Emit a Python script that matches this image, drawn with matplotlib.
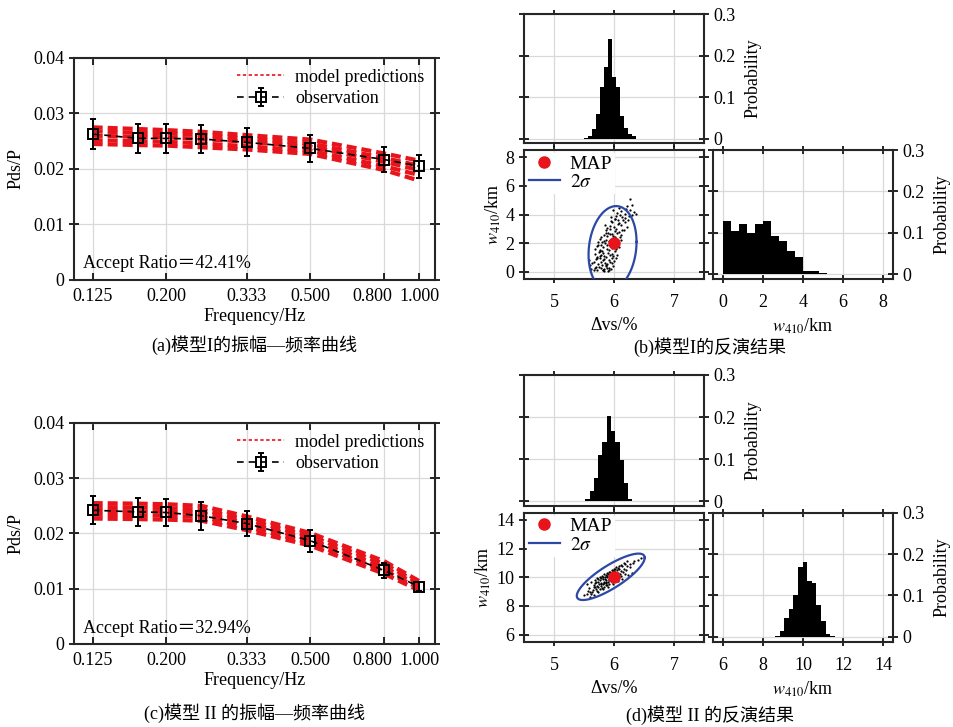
import numpy as np
import matplotlib
matplotlib.use("Agg")
import matplotlib.pyplot as plt
from matplotlib.lines import Line2D
from matplotlib.ticker import NullLocator
from matplotlib.transforms import ScaledTranslation

plt.rcParams['font.family'] = ['Liberation Serif', 'Noto Sans CJK SC']
plt.rcParams['mathtext.fontset'] = 'stix'
plt.rcParams['font.size'] = 13
plt.rcParams['axes.linewidth'] = 1.5

# ----------------------------
# Amplitude-frequency data
# ----------------------------
freq = [1/8, 1/6, 1/5, 1/4, 1/3, 1/2, 0.8, 1.0]
freq_ticks = [0.125, 0.2, 1/3, 0.5, 0.8, 1.0]
freq_labels = ["0.125", "0.200", "0.333", "0.500", "0.800", "1.000"]

obs_1 = [0.0263, 0.0255, 0.0255, 0.0254, 0.0248, 0.0237, 0.0217, 0.0205]
err_1 = [0.0027, 0.0026, 0.0026, 0.0026, 0.0025, 0.0024, 0.0022, 0.0021]
pred_1 = [
    [0.0275, 0.0272, 0.0270, 0.0267, 0.0261, 0.0253, 0.0228, 0.0215],
    [0.0268, 0.0265, 0.0264, 0.0261, 0.0255, 0.0246, 0.0220, 0.0206],
    [0.0260, 0.0258, 0.0257, 0.0254, 0.0249, 0.0240, 0.0213, 0.0198],
    [0.0252, 0.0250, 0.0249, 0.0246, 0.0241, 0.0233, 0.0205, 0.0189],
    [0.0245, 0.0243, 0.0242, 0.0239, 0.0235, 0.0227, 0.0198, 0.0179],
]
ratio_1 = "42.41%"

obs_2 = [0.0242, 0.0239, 0.0238, 0.0232, 0.0218, 0.0187, 0.0133, 0.0104]
err_2 = [0.0025, 0.0025, 0.0025, 0.0025, 0.0022, 0.0020, 0.0013, 0.0008]
pred_2 = [
    [0.0255, 0.0254, 0.0253, 0.0250, 0.0231, 0.0201, 0.0150, 0.0114],
    [0.0248, 0.0247, 0.0246, 0.0243, 0.0225, 0.0195, 0.0145, 0.0110],
    [0.0241, 0.0240, 0.0239, 0.0237, 0.0219, 0.0189, 0.0139, 0.0106],
    [0.0234, 0.0233, 0.0232, 0.0230, 0.0212, 0.0183, 0.0133, 0.0101],
    [0.0227, 0.0226, 0.0225, 0.0223, 0.0206, 0.0178, 0.0127, 0.0097],
]
ratio_2 = "32.94%"

# ----------------------------
# Inversion results, model I
# ----------------------------
dvs_start_1, dvs_width_1 = 5.5, 1/15
dvs_hist_1 = [0.002, 0.006, 0.023, 0.059, 0.124, 0.173, 0.241,
              0.148, 0.125, 0.054, 0.027, 0.011, 0.007]
w_start_1, w_width_1 = 0.0, 0.4
w_hist_1 = [0.129, 0.105, 0.122, 0.100, 0.120, 0.129, 0.091,
            0.081, 0.055, 0.041, 0.007, 0.007, 0.002]
pts_x_1 = [5.72, 5.78, 5.83, 5.88, 5.92, 5.80, 5.86, 5.95, 5.75, 5.90, 5.84, 5.98, 5.69, 5.62, 5.81,
           5.74, 5.79, 5.85, 5.91, 5.96, 5.70, 5.83, 5.88, 6.00, 5.77, 5.93, 5.81, 5.66, 5.87,
           5.72, 5.78, 5.84, 5.90, 5.96, 6.02, 5.80, 5.87, 5.93, 5.75, 5.99, 5.82, 5.68, 6.05,
           5.76, 5.82, 5.88, 5.94, 6.00, 6.06, 5.85, 5.91, 5.97, 5.79, 6.03, 5.72, 5.89,
           5.80, 5.86, 5.92, 5.98, 6.04, 6.10, 5.89, 5.95, 6.01, 5.83, 6.07, 5.76,
           5.84, 5.90, 5.96, 6.02, 6.08, 6.14, 5.93, 5.99, 6.05, 5.87, 6.11,
           5.88, 5.94, 6.00, 6.06, 6.12, 6.18, 5.97, 6.03, 6.09, 6.21,
           5.95, 6.01, 6.07, 6.13, 6.19, 6.04, 6.10, 6.24,
           6.05, 6.12, 6.18, 6.27, 6.33, 6.36, 6.22, 6.30, 6.26,
           5.64, 5.70, 5.76, 5.82, 5.68, 5.73, 5.91, 5.97, 6.04, 6.08,
           5.71, 5.77, 5.86, 6.12, 6.16, 5.79, 5.85, 5.95, 6.15, 6.20,
           5.98, 6.08, 6.25, 6.30, 5.66, 5.74, 5.94, 6.02, 5.60, 5.58]
pts_y_1 = [0.10, 0.25, 0.05, 0.30, 0.15, 0.45, 0.40, 0.20, 0.35, 0.05, 0.18, 0.42, 0.28, 0.22, 0.12,
           0.55, 0.70, 0.62, 0.80, 0.95, 0.88, 0.92, 0.58, 0.75, 0.98, 0.66, 0.84, 0.72, 0.51,
           1.05, 1.20, 1.12, 1.35, 1.28, 1.45, 1.48, 1.02, 1.18, 1.40, 1.08, 1.30, 1.25, 1.15,
           1.55, 1.70, 1.62, 1.85, 1.75, 1.92, 1.98, 1.52, 1.68, 1.90, 1.58, 1.80, 1.88,
           2.05, 2.20, 2.12, 2.35, 2.28, 2.45, 2.48, 2.02, 2.40, 2.15, 2.10, 2.30,
           2.55, 2.70, 2.62, 2.85, 2.75, 2.92, 2.98, 2.52, 2.68, 2.90, 2.58,
           3.05, 3.20, 3.12, 3.35, 3.28, 3.45, 3.48, 3.02, 3.40, 3.15,
           3.55, 3.70, 3.62, 3.85, 3.75, 3.92, 3.98, 3.60,
           4.10, 4.25, 4.05, 4.35, 4.20, 4.05, 4.60, 4.70, 5.10,
           0.60, 0.35, 1.10, 0.15, 1.60, 2.10, 0.30, 0.65, 1.00, 1.70,
           0.95, 1.45, 2.70, 2.20, 2.95, 2.40, 3.25, 3.80, 3.60, 4.40,
           4.30, 4.45, 3.90, 4.00, 0.10, 1.85, 2.65, 3.70, 0.45, 0.80]
map_1 = (6.0, 2.0)
ellipse_1 = (5.975, 1.65, 0.20, 1.47, 0.15)   # cx, cy, sx, sy, rho

# ----------------------------
# Inversion results, model II
# ----------------------------
dvs_start_2, dvs_width_2 = 5.45, 1/14
dvs_hist_2 = [0.002, 0.005, 0.024, 0.055, 0.111, 0.140, 0.202,
              0.168, 0.140, 0.099, 0.043, 0.006, 0.002]
w_start_2, w_width_2 = 8.6, 0.23
w_hist_2 = [0.003, 0.015, 0.046, 0.066, 0.100, 0.169, 0.180,
            0.136, 0.130, 0.076, 0.038, 0.006, 0.002]
pts_x_2 = [5.50, 5.55, 5.56, 5.60, 5.61, 5.59, 5.65, 5.66, 5.64, 5.67,
           5.70, 5.71, 5.69, 5.72, 5.68, 5.74, 5.75, 5.73, 5.76, 5.74,
           5.78, 5.79, 5.77, 5.80, 5.78, 5.79, 5.82, 5.83, 5.81, 5.84, 5.82, 5.83,
           5.86, 5.87, 5.85, 5.88, 5.86, 5.87, 5.85, 5.90, 5.91, 5.89, 5.92, 5.90, 5.91, 5.89,
           5.94, 5.95, 5.93, 5.96, 5.94, 5.95, 5.93, 5.98, 5.99, 5.97, 6.00, 5.98, 5.99,
           6.02, 6.03, 6.01, 6.04, 6.02, 6.06, 6.07, 6.05, 6.08, 6.06,
           6.10, 6.11, 6.09, 6.12, 6.15, 6.16, 6.14, 6.20, 6.21, 6.19, 6.26, 6.27,
           6.32, 6.33, 6.40, 6.45,
           5.55, 5.62, 5.68, 5.72, 5.76, 5.80, 5.84, 5.88, 5.92, 5.96,
           6.00, 6.04, 6.08, 6.12, 6.16, 6.22, 5.60, 5.66, 5.74, 5.82,
           5.90, 5.98, 6.06, 6.14, 6.24, 6.30, 5.70, 5.86, 6.00, 6.18]
pts_y_2 = [8.75, 8.85, 9.05, 9.00, 8.80, 9.25, 9.10, 9.30, 8.95, 9.45,
           9.20, 9.40, 9.60, 9.05, 9.35, 9.30, 9.50, 9.70, 9.15, 9.85,
           9.40, 9.60, 9.80, 9.25, 9.95, 9.50, 9.50, 9.70, 9.90, 9.35, 10.05, 9.60,
           9.60, 9.80, 10.00, 9.45, 10.15, 9.70, 9.90, 9.70, 9.90, 10.10, 9.55, 10.25, 9.80, 10.00,
           9.80, 10.00, 10.20, 9.65, 10.35, 9.90, 10.10, 9.90, 10.10, 10.30, 9.75, 10.45, 10.00,
           10.00, 10.20, 10.40, 9.85, 10.55, 10.10, 10.30, 10.50, 10.00, 10.65,
           10.25, 10.45, 10.60, 10.10, 10.40, 10.60, 10.80, 10.50, 10.75, 10.95, 10.70, 10.90,
           11.00, 11.10, 11.20, 11.35,
           9.53, 9.70, 9.84, 9.93, 10.02, 10.12, 10.21, 10.31, 10.40, 10.49,
           10.59, 10.68, 10.78, 10.87, 10.96, 11.11, 8.65, 8.79, 8.98, 9.16,
           9.35, 9.54, 9.73, 9.91, 10.15, 10.29, 9.68, 9.46, 10.44, 10.21]
map_2 = (6.0, 10.0)
ellipse_2 = (5.945, 10.03, 0.283, 0.81, 0.82)

RED = '#e8141c'
BLUE = '#2c48a6'
GRID = '#d9d9d9'
SPINE = '#262626'

fig = plt.figure(figsize=(9.54, 7.27), dpi=100)


def style_spines(ax):
    for s in ax.spines.values():
        s.set_color(SPINE)
        s.set_linewidth(1.5)
    ax.grid(True, color=GRID, lw=0.9)
    ax.set_axisbelow(True)


def amp_panel(rect, obs, err, preds, ratio):
    ax = fig.add_axes(rect)
    for p in preds:
        ax.plot(freq, p, color=RED, lw=3.0, ls=(0, (2.4, 1.2)), zorder=2)
    ax.errorbar(freq, obs, yerr=err, fmt='s', ls=(0, (4, 3)), color='k', lw=1.2,
                ms=6.5, mfc='none', mew=1.4, elinewidth=1.4, capsize=2.5,
                capthick=1.4, zorder=3, label='observation')
    ax.set_xscale('log')
    ax.set_xlim(0.111, 1.107)
    ax.set_ylim(0, 0.04)
    ax.set_xticks(freq_ticks)
    ax.set_xticklabels(freq_labels)
    ax.xaxis.set_minor_locator(NullLocator())
    ax.set_yticks([0, 0.01, 0.02, 0.03, 0.04])
    ax.set_yticklabels(["0", "0.01", "0.02", "0.03", "0.04"])
    ax.tick_params(axis='x', direction='in', top=True, length=5, width=1.2, pad=6)
    ax.tick_params(axis='y', direction='inout', right=True, length=7, width=1.2)
    # the 0.800 label sits a little left of its tick in the original
    lab = ax.get_xticklabels()[4]
    lab.set_transform(lab.get_transform() + ScaledTranslation(-0.12, 0, fig.dpi_scale_trans))
    ax.set_xlabel("Frequency/Hz", labelpad=2)
    ax.set_ylabel("Pds/P", labelpad=6)
    style_spines(ax)
    proxy = Line2D([], [], color=RED, lw=1.2, ls=(0, (2, 1.5)))
    h, l = ax.get_legend_handles_labels()
    ax.legend([proxy] + h, ['model predictions'] + l, loc='upper right',
              frameon=False, handlelength=2.6, handletextpad=0.6,
              borderaxespad=0.2, labelspacing=0.25, fontsize=13)
    ax.text(0.025, 0.072, "Accept Ratio\uff1d" + ratio, transform=ax.transAxes,
            ha='left', va='center', fontsize=13)
    return ax


def corner(top_rect, sc_rect, rh_rect, dvs_start, dvs_width, dvs_hist,
           w_start, w_width, w_hist, px, py, map_pt, ell, wlim, wticks):
    w_label = r"$w_{410}$/km"
    # top histogram of dvs
    ax_t = fig.add_axes(top_rect)
    edges = dvs_start + dvs_width * np.arange(len(dvs_hist) + 1)
    ax_t.stairs(dvs_hist, edges, fill=True, color='k')
    ax_t.set_xlim(4.5, 7.5)
    ax_t.set_ylim(-0.01, 0.3)
    ax_t.set_xticks([5, 6, 7])
    ax_t.set_xticklabels([])
    ax_t.set_yticks([0, 0.1, 0.2, 0.3])
    ax_t.set_yticklabels(["0", "0.1", "0.2", "0.3"])
    ax_t.yaxis.tick_right()
    ax_t.yaxis.set_label_position('right')
    ax_t.tick_params(axis='y', left=True, right=True, direction='inout', length=7, width=1.2)
    ax_t.tick_params(axis='x', top=True, bottom=True, direction='out', length=3, width=1.2)
    ax_t.set_ylabel("Probability", labelpad=6)
    style_spines(ax_t)

    # scatter
    ax_s = fig.add_axes(sc_rect)
    ax_s.scatter(px, py, s=2.6, color='k', linewidths=0, zorder=2)
    cx, cy, sx, sy, rho = ell
    cov = np.array([[sx**2, rho*sx*sy], [rho*sx*sy, sy**2]])
    L = np.linalg.cholesky(cov)
    t = np.linspace(0, 2*np.pi, 300)
    xy = 2 * L @ np.vstack([np.cos(t), np.sin(t)])
    ax_s.plot(cx + xy[0], cy + xy[1], color=BLUE, lw=1.6, zorder=3, label=r"$2\sigma$")
    ax_s.plot([map_pt[0]], [map_pt[1]], 'o', color=RED, ms=8, zorder=4, label='MAP')
    ax_s.set_xlim(4.5, 7.5)
    ax_s.set_ylim(*wlim)
    ax_s.set_xticks([5, 6, 7])
    ax_s.set_yticks(wticks)
    ax_s.tick_params(axis='y', left=True, right=True, direction='inout', length=7, width=1.2)
    ax_s.tick_params(axis='x', top=True, bottom=True, direction='out', length=3, width=1.2, pad=8)
    ax_s.set_xlabel("\u0394vs/%", labelpad=4)
    ax_s.set_ylabel(w_label, labelpad=2)
    style_spines(ax_s)
    h, l = ax_s.get_legend_handles_labels()
    leg = ax_s.legend(h[::-1], l[::-1], loc='upper left', frameon=True,
                      handlelength=1.6, handletextpad=0.5, borderaxespad=0.15,
                      labelspacing=0.05, fontsize=14, borderpad=0.1,
                      fancybox=False, framealpha=1)
    leg.get_frame().set_edgecolor('white')

    # right histogram of w410
    ax_r = fig.add_axes(rh_rect)
    edges = w_start + w_width * np.arange(len(w_hist) + 1)
    ax_r.stairs(w_hist, edges, fill=True, color='k')
    ax_r.set_xlim(*wlim)
    ax_r.set_ylim(-0.012, 0.3)
    ax_r.set_xticks(wticks)
    ax_r.set_yticks([0, 0.1, 0.2, 0.3])
    ax_r.set_yticklabels(["0", "0.1", "0.2", "0.3"])
    ax_r.yaxis.tick_right()
    ax_r.yaxis.set_label_position('right')
    ax_r.tick_params(axis='y', left=True, right=True, direction='inout', length=7, width=1.2)
    ax_r.tick_params(axis='x', top=True, bottom=True, direction='inout', length=6, width=1.2, pad=8)
    ax_r.set_xlabel(w_label, labelpad=4)
    ax_r.set_ylabel("Probability", labelpad=6)
    style_spines(ax_r)


amp_panel([0.0776, 0.6149, 0.3784, 0.3054], obs_1, err_1, pred_1, ratio_1)
amp_panel([0.0776, 0.1142, 0.3784, 0.3040], obs_2, err_2, pred_2, ratio_2)

corner([0.5493, 0.8033, 0.1887, 0.1774], [0.5493, 0.6162, 0.1887, 0.1774],
       [0.7474, 0.6162, 0.1887, 0.1774],
       dvs_start_1, dvs_width_1, dvs_hist_1, w_start_1, w_width_1, w_hist_1,
       pts_x_1, pts_y_1, map_1, ellipse_1, (-0.5, 8.5), [0, 2, 4, 6, 8])
corner([0.5493, 0.3044, 0.1887, 0.1798], [0.5493, 0.1173, 0.1887, 0.1774],
       [0.7474, 0.1173, 0.1887, 0.1774],
       dvs_start_2, dvs_width_2, dvs_hist_2, w_start_2, w_width_2, w_hist_2,
       pts_x_2, pts_y_2, map_2, ellipse_2, (5.5, 14.5), [6, 8, 10, 12, 14])

captions = ["(a)模型I的振幅\u2014频率曲线", "(b)模型I的反演结果",
            "(c)模型 II 的振幅\u2014频率曲线", "(d)模型 II 的反演结果"]
cap_pos = [(0.266, 0.525), (0.744, 0.523), (0.267, 0.019), (0.744, 0.0165)]
for txt, (x, y) in zip(captions, cap_pos):
    fig.text(x, y, txt, ha='center', va='center', fontsize=13)

fig.savefig("out.png", dpi=100)
